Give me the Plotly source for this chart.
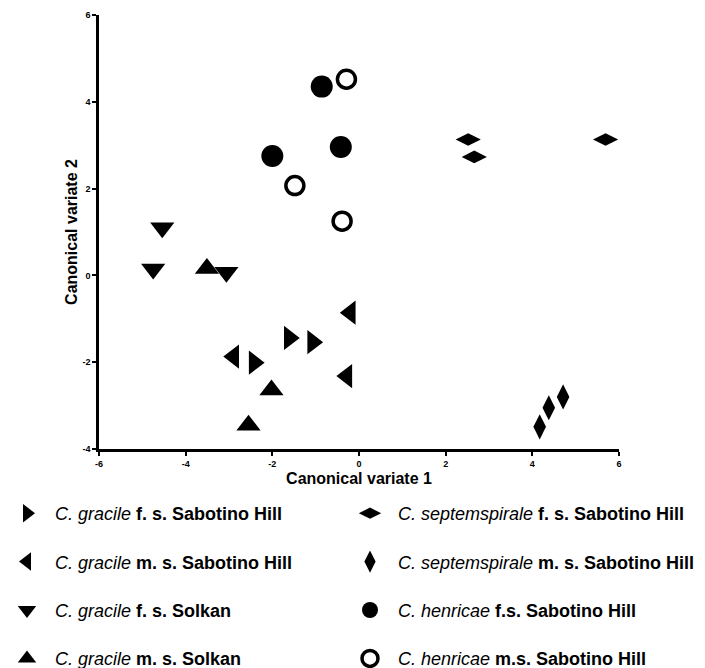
import plotly.graph_objects as go

# ---- data ----
x_tick_vals = [-6, -4, -2, 0, 2, 4, 6]
x_tick_text = ["-6", "-4", "-2", "0", "2", "4", "6"]
y_tick_vals = [-4, -2, 0, 2, 4, 6]
y_tick_text = ["-4", "-2", "0", "2", "4", "6"]

gfs_sab_x = [-1.61, -1.07, -2.42]
gfs_sab_y = [-1.44, -1.54, -2.01]
gms_sab_x = [-2.89, -0.20, -0.28]
gms_sab_y = [-1.87, -0.86, -2.32]
gfs_sol_x = [-4.54, -4.75, -3.06]
gfs_sol_y = [1.10, 0.15, 0.07]
gms_sol_x = [-3.51, -2.02, -2.55]
gms_sol_y = [0.16, -2.64, -3.45]
sfs_sab_x = [2.52, 2.66, 5.69]
sfs_sab_y = [3.13, 2.73, 3.13]
sms_sab_x = [4.17, 4.38, 4.71]
sms_sab_y = [-3.49, -3.05, -2.80]
hfs_sab_x = [-0.86, -0.42, -2.00]
hfs_sab_y = [4.35, 2.96, 2.75]
hms_sab_x = [-0.29, -1.48, -0.39]
hms_sab_y = [4.52, 2.07, 1.25]

names = [
    "<i>C. gracile</i> <b>f. s. Sabotino Hill</b>",
    "<i>C. gracile</i> <b>m. s. Sabotino Hill</b>",
    "<i>C. gracile</i> <b>f. s. Solkan</b>",
    "<i>C. gracile</i> <b>m. s. Solkan</b>",
    "<i>C. septemspirale</i> <b>f. s. Sabotino Hill</b>",
    "<i>C. septemspirale</i> <b>m. s. Sabotino Hill</b>",
    "<i>C. henricae</i> <b>f.s. Sabotino Hill</b>",
    "<i>C. henricae</i> <b>m.s. Sabotino Hill</b>",
]

FONT = "Liberation Sans, Arial, sans-serif"

series = [
    (gfs_sab_x, gfs_sab_y, "triangle-right", 21, 0, "legend"),
    (gms_sab_x, gms_sab_y, "triangle-left", 21, 0, "legend"),
    (gfs_sol_x, gfs_sol_y, "triangle-down", 21, 0, "legend"),
    (gms_sol_x, gms_sol_y, "triangle-up", 21, 0, "legend"),
    (sfs_sab_x, sfs_sab_y, "diamond-wide", 18, 0, "legend2"),
    (sms_sab_x, sms_sab_y, "diamond-tall", 18, 0, "legend2"),
    (hfs_sab_x, hfs_sab_y, "circle", 22, 0, "legend2"),
    (hms_sab_x, hms_sab_y, "circle-open", 18, 3.5, "legend2"),
]

fig = go.Figure()
for i, (xs, ys, sym, size, lw, lg) in enumerate(series):
    fig.add_trace(go.Scatter(
        x=xs, y=ys, mode="markers", name=names[i],
        legend=lg, legendgroup=f"g{i}",
        marker=dict(symbol=sym, size=size, color="black",
                    line=dict(width=lw, color="black")),
    ))

axis_common = dict(
    showline=True, linecolor="black", linewidth=2.5,
    ticks="outside", ticklen=4, tickwidth=2, tickcolor="black",
    showgrid=False, zeroline=False, mirror=False,
    tickfont=dict(family=FONT, size=9, color="black", weight="bold"),
)

fig.update_xaxes(range=[-6, 6], tickvals=x_tick_vals, ticktext=x_tick_text,
                 title=dict(text="Canonical variate 1", standoff=6,
                            font=dict(family=FONT, size=16, color="black", weight="bold")),
                 **axis_common)
fig.update_yaxes(range=[-4, 6], tickvals=y_tick_vals, ticktext=y_tick_text,
                 title=dict(text="Canonical variate 2", standoff=1,
                            font=dict(family=FONT, size=16, color="black", weight="bold")),
                 **axis_common)

W, H = 697, 660  # page body has an 8px margin
legend_common = dict(
    xref="paper", yref="container", yanchor="top", xanchor="left",
    orientation="v", traceorder="grouped", tracegroupgap=22,
    itemwidth=46, font=dict(family=FONT, size=18, color="black"),
    bgcolor="rgba(0,0,0,0)", borderwidth=0,
)

fig.update_layout(
    width=W, height=H,
    margin=dict(l=91, r=86, t=7, b=219, autoexpand=False),
    plot_bgcolor="white", paper_bgcolor="white",
    font=dict(family=FONT, color="black"),
    showlegend=True,
    legend=dict(x=-100 / 520, y=1 - 487 / H, **legend_common),
    legend2=dict(x=243 / 520, y=1 - 487 / H, **legend_common),
)

fig.write_html("out.html")
